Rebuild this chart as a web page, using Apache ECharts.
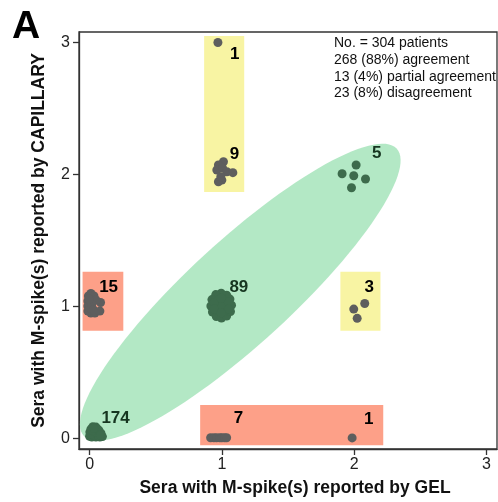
<!DOCTYPE html>
<html>
<head>
<meta charset="utf-8">
<script src="https://cdn.jsdelivr.net/npm/echarts@6/dist/echarts.min.js"></script>
<style>
html,body{margin:0;padding:0;background:#fff;}
#chart{width:498px;height:502px;}
</style>
</head>
<body>
<div id="chart"></div>
<script>
// ---- data ----
const tickValues = [0, 1, 2, 3];
const clusterGEL = [0, 1, 2, 1, 1, 2, 0, 1, 2];
const clusterCAP = [0, 1, 2, 2, 3, 1, 1, 0, 0];
const clusterCount = [174, 89, 5, 9, 1, 3, 15, 7, 1];
const clusterGroup = ['agreement', 'agreement', 'agreement', 'partial', 'partial', 'partial', 'disagreement', 'disagreement', 'disagreement'];

const summaryLines = ['No. = 304 patients', '268 (88%) agreement', '13 (4%) partial agreement', '23 (8%) disagreement'];

// jittered sera (GEL, CAPILLARY) — agreement
const agreementPoints = [
  // 0 / 0  (174)
  [0.025, 0.089], [0.048, 0.086], [0.010, 0.071], [0.040, 0.063], [0.070, 0.063],
  [0.002, 0.048], [0.025, 0.040], [0.055, 0.040], [0.086, 0.040], [0.000, 0.017],
  [0.017, 0.010], [0.048, 0.010], [0.078, 0.010], [0.097, 0.014], [0.033, 0.025],
  [0.063, 0.021], [0.010, 0.033], [0.070, 0.044], [0.040, 0.050], [0.058, 0.072],
  [0.082, 0.025], [0.020, 0.060], [0.030, 0.078],
  // 1 / 1  (89)
  [1.073, 1.010], [1.061, 1.056], [1.036, 1.086], [0.995, 1.100], [0.954, 1.090],
  [0.925, 1.052], [0.917, 1.004], [0.929, 0.958], [0.958, 0.924], [0.997, 0.913],
  [1.036, 0.928], [1.065, 0.962], [1.034, 1.007], [1.015, 1.047], [0.975, 1.049],
  [0.956, 1.007], [0.975, 0.967], [1.017, 0.965], [0.995, 1.007], [1.050, 1.032],
  [0.942, 1.030], [0.942, 0.980], [1.050, 0.982], [0.995, 1.062], [0.995, 0.952],
  // 2 / 2  (5)
  [2.015, 2.072], [1.909, 2.006], [1.997, 1.991], [2.086, 1.966], [1.980, 1.900]
];
// jittered sera — partial agreement and disagreement
const otherPoints = [
  // 1 / 2  (9)
  [1.012, 2.097], [0.974, 2.072], [0.962, 2.034], [1.005, 2.049], [1.038, 2.021],
  [1.083, 2.014], [1.000, 1.958], [0.974, 1.945], [0.992, 1.983],
  // 1 / 3  (1)
  [0.970, 3.000],
  // 2 / 1  (3)
  [1.997, 0.980], [2.080, 1.023], [2.023, 0.910],
  // 0 / 1  (15)
  [-0.009, 1.079], [0.010, 1.098], [0.033, 1.079], [-0.013, 1.041], [-0.013, 1.003],
  [-0.013, 0.965], [0.010, 0.950], [0.040, 0.950], [0.078, 0.965], [0.083, 1.030],
  [0.048, 1.049], [0.002, 0.988], [0.017, 1.018], [0.028, 0.975], [-0.005, 1.056],
  // 1 / 0  (7)
  [0.915, 0.005], [0.940, 0.005], [0.960, 0.005], [0.985, 0.005], [1.000, 0.005],
  [1.020, 0.005], [1.036, 0.005],
  // 2 / 0  (1)
  [1.985, 0.004]
];

// shaded regions in data units: [gelFrom, gelTo, capFrom, capTo]
const partialBoxes = [[0.866, 1.169, 1.868, 3.05], [1.896, 2.199, 0.816, 1.263]];
const disagreementBoxes = [[-0.053, 0.255, 0.816, 1.263], [0.836, 2.22, -0.051, 0.253]];
// agreement ellipse: centre, end of major semi-axis, end of minor semi-axis
const ellipseCenter = [1.139, 1.108];
const ellipseMajorEnd = [2.321, 2.197];
const ellipseMinorEnd = [1.408, 0.824];

// ---- layout / style ----
const labelOffsets = [[26, -20], [17, -19.6], [22.6, -21], [12.6, -20.7], [12.8, 11.3], [15, -19.6], [19, -19], [16.6, -20], [14.6, -19]];
const COL = {
  yellow: '#f8f4a3', red: '#fda088', ellipse: '#b3e8c5',
  agreePt: '#3d6b4c', otherPt: '#5e5e5e', agreeLbl: '#163520', otherLbl: '#000000', axis: '#333333'
};
const FONT = '"Liberation Sans", Arial, Helvetica, sans-serif';

const chart = echarts.init(document.getElementById('chart'), null, { renderer: 'canvas' });

function boxRender(color) {
  return function (params, api) {
    const p0 = api.coord([api.value(0), api.value(3)]);
    const p1 = api.coord([api.value(1), api.value(2)]);
    return {
      type: 'rect',
      shape: { x: p0[0], y: p0[1], width: p1[0] - p0[0], height: p1[1] - p0[1] },
      style: { fill: color }
    };
  };
}

function ellipseRender(params, api) {
  const c = api.coord([api.value(0), api.value(1)]);
  const m = api.coord([api.value(2), api.value(3)]);
  const n = api.coord([api.value(4), api.value(5)]);
  const pts = [];
  const steps = 120;
  for (let i = 0; i < steps; i++) {
    const t = (i / steps) * Math.PI * 2;
    pts.push([
      c[0] + Math.cos(t) * (m[0] - c[0]) + Math.sin(t) * (n[0] - c[0]),
      c[1] + Math.cos(t) * (m[1] - c[1]) + Math.sin(t) * (n[1] - c[1])
    ]);
  }
  return { type: 'polygon', shape: { points: pts }, style: { fill: COL.ellipse } };
}

const labelData = clusterCount.map((n, i) => ({
  value: [clusterGEL[i], clusterCAP[i], n],
  label: {
    offset: labelOffsets[i],
    color: clusterGroup[i] === 'agreement' ? COL.agreeLbl : COL.otherLbl
  }
}));

const axisCommon = {
  type: 'value',
  min: -0.08,
  max: 3.08,
  splitLine: { show: false },
  axisLine: { show: true, onZero: false, lineStyle: { color: COL.axis, width: 1.3 } },
  axisTick: { show: true, inside: false, length: 6, customValues: tickValues, lineStyle: { color: COL.axis, width: 1.3 } },
  axisLabel: { customValues: tickValues, fontFamily: FONT, fontSize: 16, color: '#222' },
  nameLocation: 'middle',
  nameTextStyle: { fontFamily: FONT, fontSize: 17.5, fontWeight: 'bold', color: '#111' }
};

chart.setOption({
  animation: false,
  backgroundColor: '#ffffff',
  grid: { left: 79, right: 1, top: 32, bottom: 53, show: true, borderColor: COL.axis, borderWidth: 1.3, backgroundColor: 'transparent' },
  xAxis: Object.assign({}, axisCommon, {
    name: 'Sera with M-spike(s) reported by GEL',
    nameGap: 30,
    nameTextStyle: Object.assign({}, axisCommon.nameTextStyle, { padding: [0, 0, 0, 14] }),
    axisLabel: Object.assign({}, axisCommon.axisLabel, { margin: 8 })
  }),
  yAxis: Object.assign({}, axisCommon, {
    name: 'Sera with M-spike(s) reported by CAPILLARY',
    nameGap: 31,
    axisLabel: Object.assign({}, axisCommon.axisLabel, { margin: 9 })
  }),
  graphic: [
    { type: 'text', left: 12, top: 8, style: { text: 'A', font: 'bold 39px ' + FONT, fill: '#000' } },
    { type: 'text', left: 334, top: 35, style: { text: summaryLines.join('\n'), font: '14px ' + FONT, lineHeight: 16.7, fill: '#111' } }
  ],
  series: [
    {
      type: 'custom', name: 'agreement region', z: 1,
      renderItem: ellipseRender,
      encode: { x: [0, 2, 4], y: [1, 3, 5] },
      data: [[ellipseCenter[0], ellipseCenter[1], ellipseMajorEnd[0], ellipseMajorEnd[1], ellipseMinorEnd[0], ellipseMinorEnd[1]]],
      silent: true
    },
    {
      type: 'custom', name: 'partial region', z: 1,
      renderItem: boxRender(COL.yellow),
      encode: { x: [0, 1], y: [2, 3] },
      data: partialBoxes, silent: true
    },
    {
      type: 'custom', name: 'disagreement region', z: 1,
      renderItem: boxRender(COL.red),
      encode: { x: [0, 1], y: [2, 3] },
      data: disagreementBoxes, silent: true
    },
    {
      type: 'scatter', name: 'agreement', z: 3, symbolSize: 9,
      itemStyle: { color: COL.agreePt, opacity: 1 },
      data: agreementPoints
    },
    {
      type: 'scatter', name: 'other', z: 3, symbolSize: 9,
      itemStyle: { color: COL.otherPt, opacity: 1 },
      data: otherPoints
    },
    {
      type: 'scatter', name: 'counts', z: 4, symbolSize: 0,
      itemStyle: { color: '#000', opacity: 1 },
      label: {
        show: true, position: 'inside', formatter: p => String(p.value[2]),
        fontFamily: FONT, fontSize: 17, fontWeight: 'bold', opacity: 1,
        textBorderWidth: 0, textBorderColor: 'transparent', textShadowBlur: 0
      },
      data: labelData
    }
  ]
});
</script>
</body>
</html>
